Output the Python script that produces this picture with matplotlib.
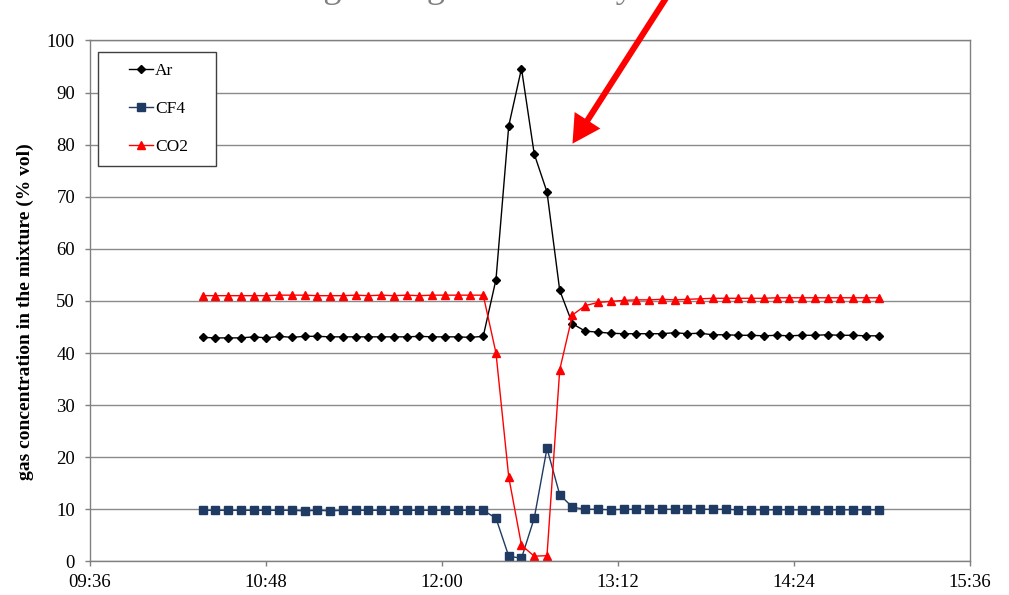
import matplotlib
matplotlib.use("Agg")
import matplotlib.pyplot as plt
from matplotlib.ticker import FuncFormatter, MultipleLocator
from matplotlib.patches import Rectangle, FancyArrowPatch

plt.rcParams['font.family'] = ['Liberation Serif', 'DejaVu Serif']

# sample times (hh:mm:ss)
times = ["10:22:06", "10:27:19", "10:32:32", "10:37:45", "10:42:58", "10:48:11",
         "10:53:24", "10:58:37", "11:03:50", "11:09:03", "11:14:16", "11:19:29",
         "11:24:42", "11:29:55", "11:35:08", "11:40:21", "11:45:34", "11:50:47",
         "11:56:00", "12:01:13", "12:06:26", "12:11:39", "12:16:52", "12:22:05",
         "12:27:18", "12:32:31", "12:37:44", "12:42:57", "12:48:10", "12:53:23",
         "12:58:36", "13:03:49", "13:09:02", "13:14:15", "13:19:28", "13:24:41",
         "13:29:54", "13:35:07", "13:40:20", "13:45:33", "13:50:46", "13:55:59",
         "14:01:12", "14:06:25", "14:11:38", "14:16:51", "14:22:04", "14:27:17",
         "14:32:30", "14:37:43", "14:42:56", "14:48:09", "14:53:22", "14:58:35"]

ar = [43.0, 42.9, 42.9, 42.9, 43.1, 42.9, 43.2, 43.0, 43.2, 43.2, 43.1, 43.1,
      43.1, 43.1, 43.1, 43.1, 43.1, 43.2, 43.1, 43.1, 43.1, 43.0, 43.2,
      54.1, 83.6, 94.6, 78.2, 70.9, 52.0, 45.6, 44.2, 44.0, 43.8,
      43.7, 43.7, 43.7, 43.7, 43.9, 43.7, 43.8, 43.5, 43.5, 43.4, 43.4,
      43.3, 43.4, 43.3, 43.4, 43.4, 43.5, 43.4, 43.4, 43.3, 43.3]

cf4 = [9.8, 9.8, 9.8, 9.8, 9.8, 9.8, 9.8, 9.8, 9.7, 9.8, 9.7, 9.8,
       9.8, 9.8, 9.8, 9.8, 9.8, 9.8, 9.8, 9.8, 9.8, 9.8, 9.8,
       8.3, 1.0, 0.6, 8.3, 21.7, 12.8, 10.4, 10.0, 10.0, 9.9,
       10.0, 10.0, 10.0, 10.0, 10.0, 10.0, 10.0, 10.0, 10.0, 9.9, 9.9,
       9.9, 9.9, 9.9, 9.9, 9.8, 9.9, 9.9, 9.9, 9.9, 9.9]

co2 = [51.0, 51.0, 51.0, 51.0, 51.0, 51.0, 51.1, 51.1, 51.1, 51.0, 51.0, 51.0,
       51.1, 51.0, 51.1, 51.0, 51.1, 51.0, 51.1, 51.1, 51.1, 51.1, 51.1,
       40.0, 16.2, 3.1, 1.0, 1.1, 36.8, 47.3, 49.1, 49.7, 49.9,
       50.1, 50.2, 50.2, 50.3, 50.2, 50.3, 50.4, 50.5, 50.5, 50.5, 50.5,
       50.5, 50.6, 50.6, 50.6, 50.6, 50.6, 50.6, 50.6, 50.6, 50.6]


def to_min(s):
    h, m, sec = s.split(":")
    return int(h) * 60 + int(m) + int(sec) / 60.0


x = [to_min(t) for t in times]

fig = plt.figure(figsize=(10.09, 5.95), dpi=100)
ax = fig.add_axes([90 / 1009, 1 - 561.4 / 595, 880 / 1009, 521 / 595])

ax.plot(x, ar, color='black', lw=1, marker='D', ms=4, label='Ar')
ax.plot(x, cf4, color='#1f3b63', lw=1, marker='s', ms=5.3, label='CF4')
ax.plot(x, co2, color='#ff0000', lw=1, marker='^', ms=5.5, label='CO2')

ax.set_xlim(576, 936)
ax.set_ylim(0, 100)
ax.xaxis.set_major_locator(MultipleLocator(72))
ax.yaxis.set_major_locator(MultipleLocator(10))
ax.xaxis.set_major_formatter(FuncFormatter(lambda v, p: "%02d:%02d" % (int(v) // 60, int(v) % 60)))

ax.grid(axis='y', color='#8a8a8a', lw=1)
ax.set_axisbelow(True)
for s in ax.spines.values():
    s.set_color('#808080')
    s.set_linewidth(1)
ax.tick_params(direction='out', length=3.8, width=1, color='#808080', labelsize=13.5)
ax.tick_params(axis='y', pad=7)
ax.tick_params(axis='x', pad=5)

ax.set_ylabel('gas concentration in the mixture (% vol)', fontsize=14, fontweight='bold')
ax.yaxis.set_label_coords(-0.064, 0.48)

# legend box
ax.add_patch(Rectangle((0.009, 0.758), 0.134, 0.219, transform=ax.transAxes,
                       facecolor='white', edgecolor='#404040', lw=1, zorder=5))
leg = ax.legend(loc='upper left', bbox_to_anchor=(0.044, 0.957), frameon=False,
                fontsize=12.5, labelspacing=1.25, handlelength=1.4, handletextpad=0.1,
                borderpad=0, borderaxespad=0)
leg.set_zorder(6)

# partly hidden title at the top
fig.text(174, 598, 'Gas mixing during the recovery', transform=None,
         fontsize=26, color='#808080', ha='left', va='baseline')

# red arrow
arr = FancyArrowPatch((668, 600), (571, 449), transform=None,
                      arrowstyle='simple, head_length=1.0, head_width=1.1, tail_width=0.22',
                      mutation_scale=20, color='#ff0000', lw=0)
fig.patches.append(arr)

fig.savefig('out.png', dpi=100)
